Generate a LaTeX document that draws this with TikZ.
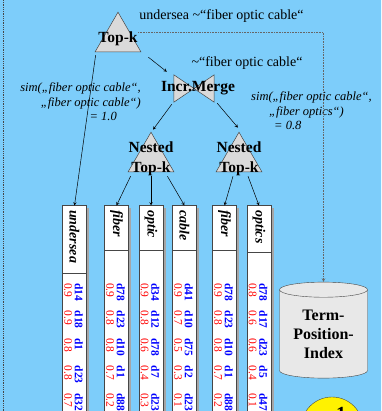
\documentclass[tikz,border=0pt]{standalone}
\usepackage{fontspec}
\setmainfont{Liberation Serif}
\usetikzlibrary{shapes.geometric,calc}
\definecolor{sky}{RGB}{125,205,250}
\definecolor{trigray}{RGB}{218,218,218}
\definecolor{frame}{RGB}{70,70,70}
\begin{document}
\begin{tikzpicture}[x=1pt,y=-1pt,>=stealth,
	tri/.style={regular polygon,regular polygon sides=3,minimum size=53pt,inner sep=0pt,draw=frame,fill=trigray,line width=0.5pt},
	op/.style={font=\fontsize{15.5}{20}\selectfont\bfseries,align=center,inner sep=0pt},
	query/.style={font=\fontsize{14}{16}\selectfont,inner sep=0pt},
	simtxt/.style={font=\fontsize{12.5}{14.5}\selectfont\itshape,inner sep=0pt},
	colbox/.style={draw=frame,fill=white,line width=0.9pt,minimum width=24pt,minimum height=230pt,anchor=north,inner sep=0pt},
	head/.style={rotate=-90,anchor=west,font=\fontsize{14}{16}\selectfont\bfseries\itshape,inner sep=0pt},
	post/.style={rotate=-90,anchor=west,font=\fontsize{11.5}{10.5}\selectfont,align=left,inner sep=0pt},
	link/.style={->,line width=0.5pt}]
	\useasboundingbox (0,0) rectangle (381,411);
	\shade[top color=sky,middle color=white,bottom color=sky] (0,0) rectangle (381,411);
	\draw[densely dotted,frame,line width=0.8pt] (3,0)--(3,411);
	% operators
	\node[tri,label={[op]center:Top-k}] (topk) at (118,38.7) {};
	\node[minimum width=40pt,minimum height=27pt,inner sep=0pt] (merge) at (194,88.5) {};
	\filldraw[draw=frame,fill=trigray,line width=0.5pt] (merge.north west)--(merge.south west)--(merge.north east)--(merge.south east)--cycle;
	\node[op] (mergetxt) at ($(merge)+(4,0)$) {Incr.Merge};
	\node[tri,label={[op]center:Nested\\Top-k}] (nest1) at (151,158.7) {};
	\node[tri,label={[op]center:Nested\\Top-k}] (nest2) at (239,158.7) {};
	% queries and similarities
	\node[query] (q1) at (221.5,16) {undersea \textasciitilde“fiber optic cable“};
	\node[query] (q2) at (247,63) {\textasciitilde“fiber optic cable“};
	\node[simtxt,align=right,anchor=north east] (sim1) at (141,83) {sim(„fiber optic cable“,\\„fiber optic cable“)\\= 1.0\hspace*{24pt}};
	\node[simtxt,align=left,anchor=north west] (sim2) at (251,92) {sim(„fiber optic cable“,\\\hspace*{18pt}„fiber optics“)\\\hspace*{23pt}= 0.8};
	% index lists
	\foreach \cx/\word/\hb/\lst [count=\c] in {
		74.5/undersea/273/{d14/0.9,d18/0.9,d1/0.8,d23/0.8,d32/0.7},
		116.5/fiber/250/{d78/0.9,d23/0.8,d10/0.8,d1/0.7,d88/0.2},
		151/optic/250/{d34/0.9,d12/0.8,d78/0.6,d7/0.4,d23/0.3},
		184.5/cable/250/{d41/0.9,d10/0.7,d75/0.5,d2/0.3,d23/0.1},
		224.5/fiber/250/{d78/0.9,d23/0.8,d10/0.8,d1/0.7,d88/0.2},
		259/optics/252/{d78/0.8,d17/0.6,d23/0.6,d5/0.4,d47/0.1}}{
		\fill[gray!70] (\cx-10,208) rectangle (\cx+14.5,430);
		\node[colbox] (col\c) at (\cx,205.5) {};
		\draw[frame,line width=0.9pt] (\cx-12,\hb)--(\cx+12,\hb);
		\node[head] at (\cx,210) {\word};
		\foreach \d/\v [count=\i] in \lst
			\node[post] at (\cx-1,283+27.5*\i-27.5) {{\color{blue}\bfseries\d}\\{\color{red}\v}};
	}
	\node[cylinder,shape border rotate=90,aspect=0.25,draw=frame,fill=gray!18,minimum width=88pt,minimum height=96pt,align=center,inner sep=0pt,font=\fontsize{16}{19}\selectfont\bfseries] (tpi) at (323.5,334) {Term-\\Position-\\Index};
	\node[circle,draw=frame,fill=yellow,minimum size=62pt] (sun) at (332,428) {};
	\node[anchor=north,inner sep=0pt,font=\fontsize{20}{20}\selectfont\bfseries] at (341,407.5) {1};
	% connectors
	\draw[->,densely dotted,gray!80!black,line width=0.6pt] ($(topk.center)+(20,-6)$) -| (tpi.north);
	\draw[link] ($(topk.corner 2)+(1,3)$)--(col1.north);
	\draw[link] ($(topk.corner 3)+(7,5)$)--($(merge.north west)+(-7,-3)$);
	\draw[link] ($(merge.south west)+(-2,2)$)--($(nest1.corner 1)+(2,-2)$);
	\draw[link] ($(merge.south east)+(3,1)$)--($(nest2.corner 1)+(-1,-4)$);
	\draw[link] ($(nest1.corner 2)+(3,4)$)--(col2.north);
	\draw[link] ($(nest1.side 2)+(0,4)$)--(col3.north);
	\draw[link] ($(nest1.corner 3)+(-7,4)$)--(col4.north);
	\draw[link] ($(nest2.side 2)+(-6,4)$)--(col5.north);
	\draw[link] ($(nest2.side 2)+(9,4)$)--(col6.north);
\end{tikzpicture}
\end{document}
